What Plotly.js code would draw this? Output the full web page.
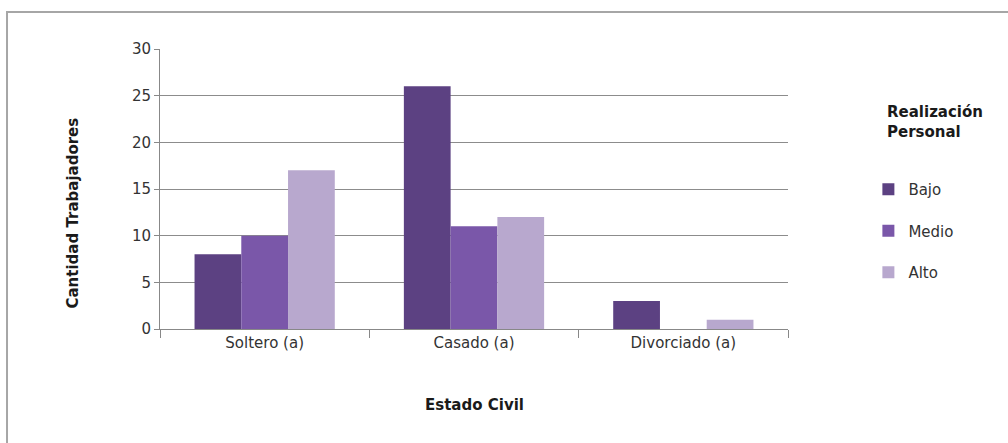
<!DOCTYPE html>
<html>
<head>
<meta charset="utf-8">
<script src="https://cdn.plot.ly/plotly-3.0.1.min.js"></script>
<style>html,body{margin:0;padding:0;background:#fff;}#chart{width:1008px;height:443px;}</style>
</head>
<body>
<div id="chart"></div>
<script>
const categories = ["Soltero (a)", "Casado (a)", "Divorciado (a)"];
const seriesNames = ["Bajo", "Medio", "Alto"];
const bajo = [8, 26, 3];
const medio = [10, 11, 0];
const alto = [17, 12, 1];
const yTicks = [0, 5, 10, 15, 20, 25, 30];

const colors = ["#5c4182", "#7a57a9", "#b8a8ce"];
const values = [bajo, medio, alto];

const traces = values.map((v, i) => ({
  type: "bar",
  name: seriesNames[i],
  x: categories,
  y: v,
  legendgroup: "g" + i,
  marker: {color: colors[i], line: {width: 0}},
  hoverinfo: "x+y+name"
}));

const font = "DejaVu Sans, sans-serif";
const boldFont = "DejaVu Sans, sans-serif";
const layout = {
  width: 1008, height: 443,
  margin: {l: 160, r: 220, t: 49, b: 114},
  paper_bgcolor: "#ffffff", plot_bgcolor: "#ffffff",
  barmode: "group", bargap: 0.33, bargroupgap: 0,
  font: {family: font, size: 15, color: "#333333"},
  xaxis: {
    type: "category",
    showgrid: false,
    showline: true, linecolor: "#888888", linewidth: 1,
    ticks: "outside", tickson: "boundaries", ticklen: 8, tickcolor: "#888888",
    tickfont: {family: font, size: 15, color: "#333333"},
    fixedrange: true
  },
  yaxis: {
    range: [0, 30],
    tickvals: yTicks,
    showgrid: true, gridcolor: "#8c8c8c", gridwidth: 1,
    showline: true, linecolor: "#888888", linewidth: 1,
    ticks: "outside", ticklen: 5, tickcolor: "#888888",
    tickfont: {family: font, size: 15, color: "#333333"},
    zeroline: false,
    fixedrange: true
  },
  showlegend: true,
  legend: {
    x: 1.128, xanchor: "left", y: 0.557, yanchor: "top",
    font: {family: font, size: 15, color: "#333333"},
    tracegroupgap: 19,
    itemwidth: 30,
    bgcolor: "rgba(0,0,0,0)"
  },
  annotations: [
    {text: "<b>Estado Civil</b>", xref: "paper", yref: "paper", x: 0.5, y: -0.27,
     xanchor: "center", yanchor: "middle", showarrow: false,
     font: {family: boldFont, size: 15, color: "#1a1a1a"}},
    {text: "<b>Cantidad Trabajadores</b>", xref: "paper", yref: "paper", x: -0.139, y: 0.415,
     xanchor: "center", yanchor: "middle", textangle: -90, showarrow: false,
     font: {family: boldFont, size: 15, color: "#1a1a1a"}},
    {text: "<b>Realización<br>Personal</b>", xref: "paper", yref: "paper", x: 1.154, y: 0.739,
     xanchor: "left", yanchor: "middle", align: "left", showarrow: false,
     font: {family: boldFont, size: 15, color: "#1a1a1a"}}
  ],
  shapes: [
    {type: "rect", xref: "paper", yref: "paper",
     x0: -0.2436, x1: 1.36, y0: -0.45, y1: 1.132,
     line: {color: "#a6a6a6", width: 2}, fillcolor: "rgba(0,0,0,0)", layer: "below"}
  ]
};

Plotly.newPlot("chart", traces, layout, {displayModeBar: false, staticPlot: true});
</script>
</body>
</html>
